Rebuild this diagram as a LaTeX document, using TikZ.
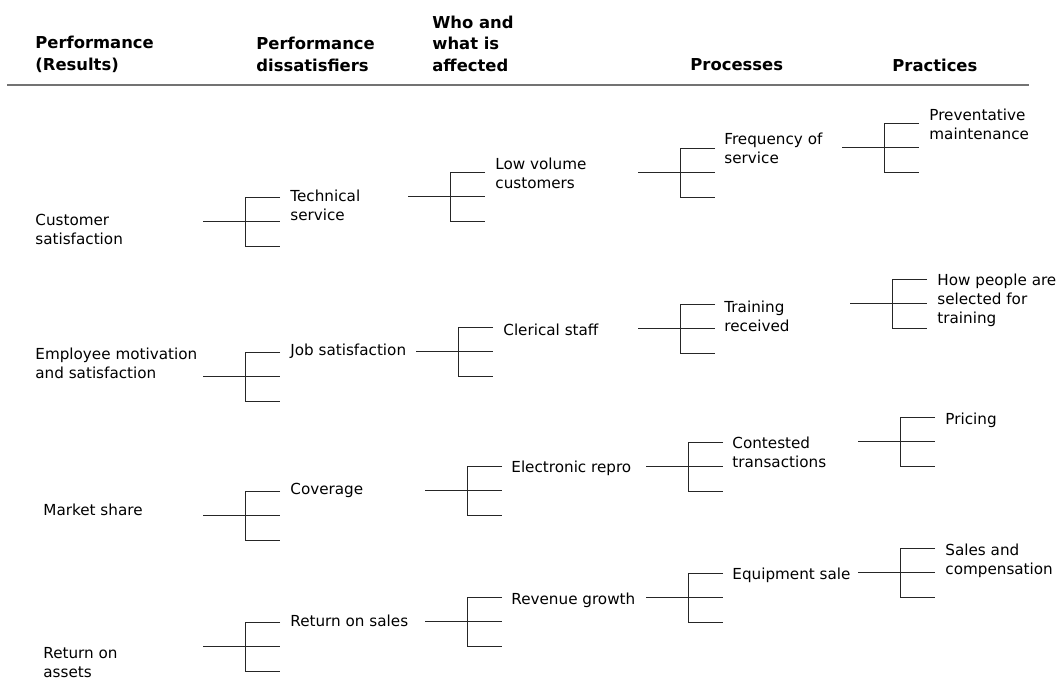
\documentclass[tikz,border=0pt]{standalone}
\usepackage{fontspec}
\setmainfont{DejaVu Sans}
\begin{document}
\begin{tikzpicture}[x=0.5pt,y=-0.5pt,
   lbl/.style={anchor=west,align=left,inner sep=0pt,font=\fontsize{7.6}{9.5}\selectfont},
   hdr/.style={anchor=west,align=left,inner sep=0pt,font=\fontsize{8.2}{10.75}\selectfont\bfseries},
   fork/.pic={\draw (-42,0) -- (35,0);
              \draw (35,-24.5) -- (0,-24.5) -- (0,24.5) -- (35,24.5);},
   every pic/.style={line width=0.5pt,black!85}]
   \useasboundingbox (0,0) rectangle (1062,679);
   % headings
   \node[hdr] (hres) at (35,54.5) {Performance\\(Results)};
   \node[hdr] (hdis) at (256,54.5) {Performance\\dissatisfiers};
   \node[hdr] (hwho) at (432,43.5) {Who and\\what is\\affected};
   \node[hdr] (hproc) at (690,65) {Processes};
   \node[hdr] (hprac) at (892,65) {Practices};
   \draw[black!55,line width=1pt] (7,85) -- (1029,85);
   % results
   \node[lbl] (cust) at (35,229.5) {Customer\\satisfaction};
   \node[lbl] (empl) at (35,363.5) {Employee motivation\\and satisfaction};
   \node[lbl] (mkt) at (43,510) {Market share};
   \node[lbl] (roa) at (43,662.5) {Return on\\assets};
   \pic (fA1) at (245,222) {fork};
   \pic (fA2) at (245,377) {fork};
   \pic (fA3) at (245,516) {fork};
   \pic (fA4) at (245,647) {fork};
   % dissatisfiers
   \node[lbl] (tech) at (290,205.5) {Technical\\service};
   \node[lbl] (job) at (290,351) {Job satisfaction};
   \node[lbl] (cov) at (290,490) {Coverage};
   \node[lbl] (ros) at (290,621) {Return on sales};
   \pic (fB1) at (450,197) {fork};
   \pic (fB2) at (458,352) {fork};
   \pic (fB3) at (467,491) {fork};
   \pic (fB4) at (467,622) {fork};
   % who and what
   \node[lbl] (lowv) at (495,173) {Low volume\\customers};
   \node[lbl] (cler) at (503,330) {Clerical staff};
   \node[lbl] (elec) at (511,468) {Electronic repro};
   \node[lbl] (rev) at (511,600) {Revenue growth};
   \pic (fC1) at (680,173) {fork};
   \pic (fC2) at (680,329) {fork};
   \pic (fC3) at (688,467) {fork};
   \pic (fC4) at (688,598) {fork};
   % processes
   \node[lbl] (freq) at (724,148.5) {Frequency of\\service};
   \node[lbl] (train) at (724,316) {Training\\received};
   \node[lbl] (cont) at (732,452.5) {Contested\\transactions};
   \node[lbl] (equip) at (732,575) {Equipment sale};
   \pic (fD1) at (884,148) {fork};
   \pic (fD2) at (892,304) {fork};
   \pic (fD3) at (900,442) {fork};
   \pic (fD4) at (900,573) {fork};
   % practices
   \node[lbl] (prev) at (929,124.5) {Preventative\\maintenance};
   \node[lbl] (howp) at (937,300.5) {How people are\\selected for\\training};
   \node[lbl] (pric) at (945,420) {Pricing};
   \node[lbl] (sales) at (945,560.5) {Sales and\\compensation};
\end{tikzpicture}
\end{document}
